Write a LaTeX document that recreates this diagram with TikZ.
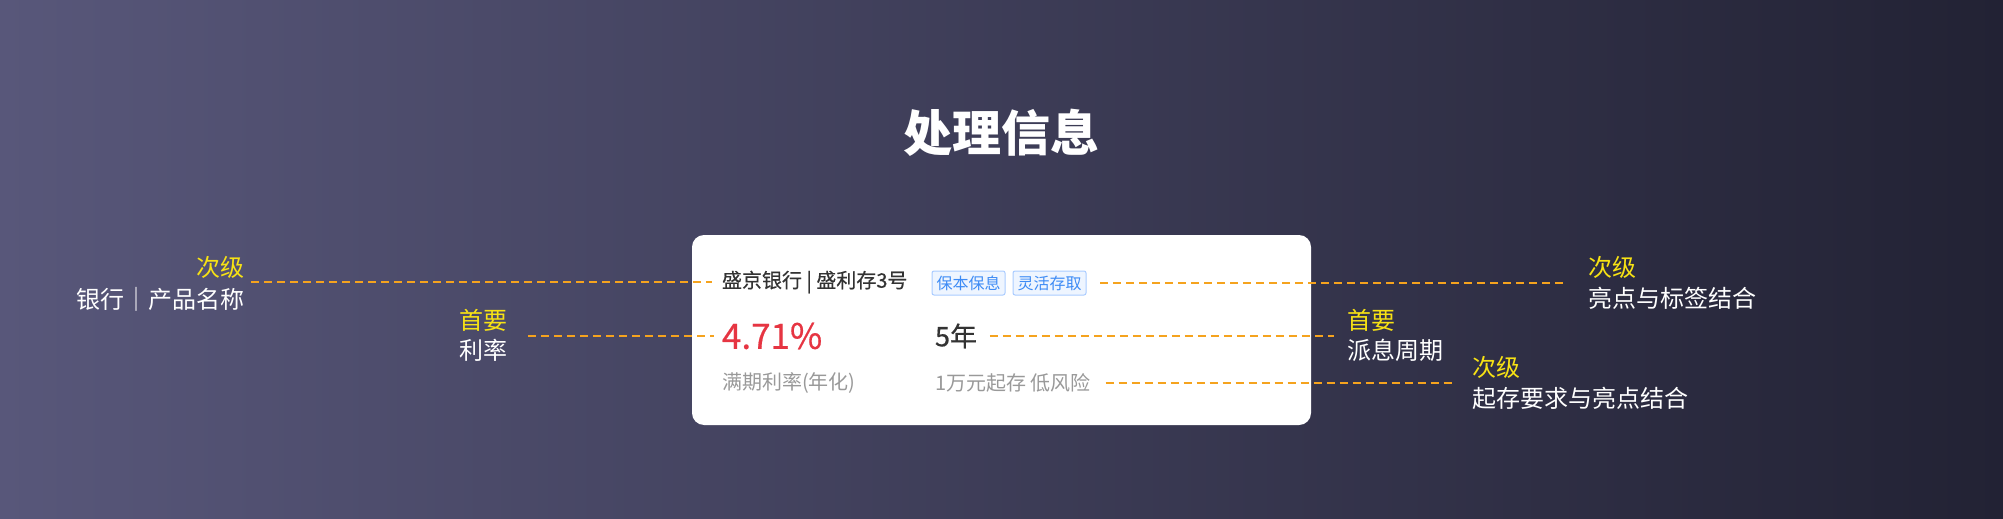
\documentclass[tikz,border=0pt]{standalone}
\usepackage{fontspec}
\setmainfont{Noto Sans CJK SC}
\newfontfamily\medfont{Noto Sans CJK SC}[FakeBold=0.5]
\usetikzlibrary{positioning, calc}
\definecolor{bgleft}{RGB}{88,87,122}
\definecolor{bgmid}{RGB}{62,62,95}
\definecolor{bgright}{RGB}{34,34,52}
\definecolor{lvyellow}{RGB}{247,226,20}
\definecolor{guideorange}{RGB}{245,163,30}
\definecolor{tagblue}{RGB}{61,139,245}
\definecolor{tagline}{RGB}{170,204,255}
\definecolor{tagfill}{RGB}{238,245,255}
\definecolor{raterd}{RGB}{230,53,66}
\definecolor{darktext}{RGB}{51,51,51}
\definecolor{greytext}{RGB}{153,153,153}
\tikzset{
  every node/.style={inner sep=0pt, outer sep=0pt},
  level/.style={text=lvyellow, font=\fontsize{24}{28}\selectfont},
  desc/.style={text=white, font=\fontsize{24}{28}\selectfont},
  guide/.style={draw=guideorange, line width=2.2pt, dash pattern=on 8pt off 5pt},
  card/.style={fill=white, rounded corners=12pt, minimum width=619pt, minimum height=190pt},
  tag/.style={draw=tagline, fill=tagfill, text=tagblue, line width=1pt, rounded corners=2pt,
    minimum width=73pt, minimum height=24pt, font=\fontsize{16}{18}\selectfont},
}

\begin{document}
\begin{tikzpicture}[x=1pt, y=-1pt]
  \shade[left color=bgleft, middle color=bgmid, right color=bgright] (0,0) rectangle (2003,519);
  \useasboundingbox (0,0) rectangle (2003,519);

  \node[text=white, font=\fontsize{49}{56}\selectfont\bfseries] (title) at (1001,133) {处理信息};

  % card
  \node[card] (card) at (1001.5,330) {};
  \node[anchor=west, text=darktext, font=\fontsize{20}{24}\selectfont\medfont] (name) at (722,282) {盛京银行 | 盛利存3号};
  \node[tag] (tag1) at (968.5,283) {保本保息};
  \node[tag, right=8pt of tag1] (tag2) {灵活存取};
  \node[anchor=west, text=raterd, font=\fontsize{35}{40}\selectfont\medfont] (rate) at (722,336) {4.71\%};
  \node[anchor=west, text=darktext, font=\fontsize{27}{32}\selectfont\medfont] (term) at (935,336) {5年};
  \node[anchor=west, text=greytext, font=\fontsize{20}{24}\selectfont] (ratelbl) at (722,383) {满期利率(年化)};
  \node[anchor=west, text=greytext, font=\fontsize{20}{24}\selectfont] (termlbl) at (935,383) {1万元起存 低风险};

  % labels left
  \node[level, anchor=east] (lv1) at (244,267) {次级};
  \node[desc, below=9pt of lv1.south east, anchor=north east] (ld1) {银行｜产品名称};
  \node[level, anchor=east] (lv2) at (507,320) {首要};
  \node[desc, below=8pt of lv2.south east, anchor=north east] (ld2) {利率};

  % labels right
  \node[level, anchor=west] (rv1) at (1588,267) {次级};
  \node[desc, below=9pt of rv1.south west, anchor=north west] (rd1) {亮点与标签结合};
  \node[level, anchor=west] (rv2) at (1347,320) {首要};
  \node[desc, below=8pt of rv2.south west, anchor=north west] (rd2) {派息周期};
  \node[level, anchor=west] (rv3) at (1472,367) {次级};
  \node[desc, below=9pt of rv3.south west, anchor=north west] (rd3) {起存要求与亮点结合};

  % guides
  \draw[guide] ($(lv1.east |- name.west)+(7,0)$) -- ($(name.west)+(-10,0)$);
  \draw[guide] ($(tag2.east)+(14,0)$) -- ($(rv1.west |- tag2.east)+(-24,0)$);
  \draw[guide] ($(lv2.east |- rate.west)+(21,0)$) -- ($(rate.west)+(-8,0)$);
  \draw[guide] ($(term.east)+(13,0)$) -- ($(rv2.west |- term.east)+(-13,0)$);
  \draw[guide] ($(termlbl.east)+(15,0)$) -- ($(rv3.west |- termlbl.east)+(-17,0)$);
\end{tikzpicture}
\end{document}
